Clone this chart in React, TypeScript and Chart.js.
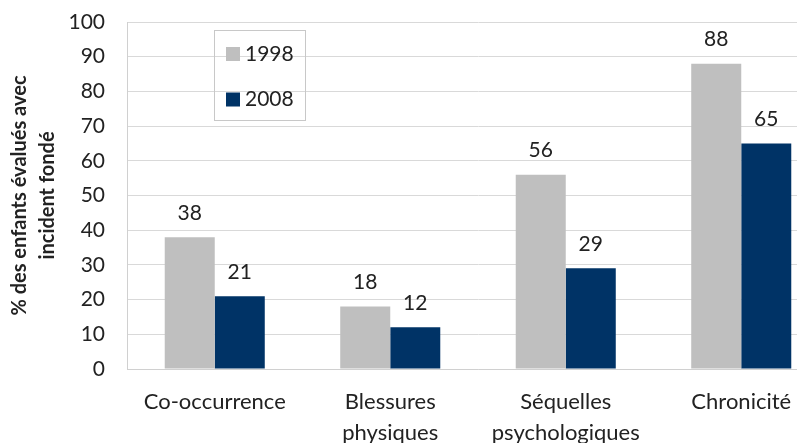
import { useEffect, useRef } from "react";
import { Chart, registerables } from "chart.js";

Chart.register(...registerables);

const categories: (string | string[])[] = [
  "Co-occurrence",
  ["Blessures", "physiques"],
  ["Séquelles", "psychologiques"],
  "Chronicité",
];
const values1998 = [38, 18, 56, 88];
const values2008 = [21, 12, 29, 65];
const seriesLabels = ["1998", "2008"];
const yTitle = ["% des enfants évalués avec", "incident fondé"];

const FONT = "Lato, 'Open Sans', sans-serif";
const GRAY = "#BFBFBF";
const NAVY = "#003366";

const valueLabels = {
  id: "valueLabels",
  afterDatasetsDraw(chart: any) {
    const ctx = chart.ctx;
    ctx.save();
    ctx.font = `21px ${FONT}`;
    ctx.fillStyle = "#222";
    ctx.textAlign = "center";
    ctx.textBaseline = "middle";
    chart.data.datasets.forEach((ds: any, i: number) => {
      const meta = chart.getDatasetMeta(i);
      meta.data.forEach((bar: any, j: number) => {
        ctx.fillText(String(ds.data[j]), bar.x, bar.y - 24);
      });
    });
    ctx.restore();
  },
};

const boxLegend = {
  id: "boxLegend",
  afterDraw(chart: any) {
    const ctx = chart.ctx;
    ctx.save();
    ctx.strokeStyle = "#C8C8C8";
    ctx.lineWidth = 1;
    ctx.strokeRect(214.5, 30.5, 91, 90);
    ctx.font = `21px ${FONT}`;
    ctx.textBaseline = "middle";
    ctx.textAlign = "left";
    chart.data.datasets.forEach((ds: any, i: number) => {
      const cy = 54 + i * 45.5;
      ctx.fillStyle = ds.backgroundColor;
      ctx.fillRect(226, cy - 7, 14, 14);
      ctx.fillStyle = "#222";
      ctx.fillText(ds.label, 245, cy);
    });
    ctx.restore();
  },
};

export default function App() {
  const ref = useRef<HTMLCanvasElement | null>(null);
  useEffect(() => {
    if (!ref.current) return;
    const chart = new Chart(ref.current, {
      type: "bar",
      data: {
        labels: categories,
        datasets: [
          { label: seriesLabels[0], data: values1998, backgroundColor: GRAY },
          { label: seriesLabels[1], data: values2008, backgroundColor: NAVY },
        ],
      },
      options: {
        animation: false,
        responsive: false,
        maintainAspectRatio: false,
        layout: { padding: { top: 22, right: 6, left: 0, bottom: 0 } },
        datasets: { bar: { barPercentage: 1, categoryPercentage: 0.57 } },
        plugins: {
          legend: { display: false },
          tooltip: { enabled: false },
        },
        scales: {
          x: {
            grid: { display: false, drawTicks: false },
            border: { display: true, color: "#D0D0D0", width: 1 },
            ticks: {
              color: "#222",
              font: { family: FONT, size: 22, lineHeight: 1.38 },
              padding: 18,
              maxRotation: 0,
              autoSkip: false,
            },
            afterFit: (s: any) => {
              s.height = 74;
              s.paddingTop = 0;
            },
          },
          y: {
            min: 0,
            max: 100,
            ticks: {
              stepSize: 10,
              color: "#222",
              font: { family: FONT, size: 21 },
              padding: 22,
            },
            grid: { color: "#D9D9D9", drawTicks: false, lineWidth: 1 },
            border: { display: true, color: "#D0D0D0", width: 1 },
            title: {
              display: true,
              text: yTitle,
              color: "#222",
              font: { family: FONT, size: 20, weight: "bold", lineHeight: 1.4 },
              padding: { top: 6, bottom: 0 },
            },
            afterFit: (s: any) => {
              s.width = 127;
              s.paddingTop = 0;
              s.paddingBottom = 0;
            },
          },
        },
      },
      plugins: [valueLabels, boxLegend],
    });
    return () => chart.destroy();
  }, []);
  return (
    <div
      style={{
        position: "fixed",
        left: 0,
        top: 0,
        width: 797,
        height: 443,
        overflow: "hidden",
        background: "#fff",
      }}
    >
      <canvas ref={ref} width={835} height={443} style={{ display: "block" }} />
    </div>
  );
}
